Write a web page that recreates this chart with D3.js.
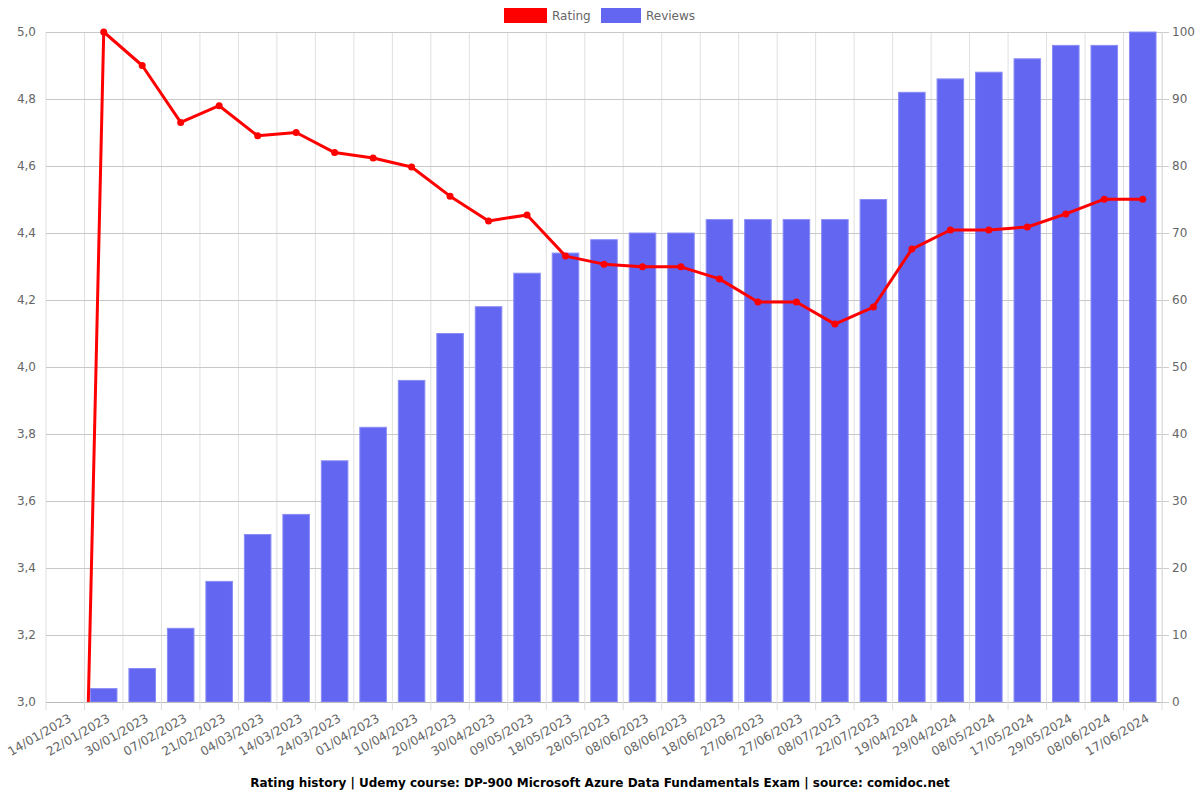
<!DOCTYPE html>
<html>
<head>
<meta charset="utf-8">
<script src="https://cdn.jsdelivr.net/npm/d3@7"></script>
<style>
  html, body { margin: 0; padding: 0; background: #fff; }
  svg { display: block; font-family: "DejaVu Sans", sans-serif; }
</style>
</head>
<body>
<svg id="chart" width="1200" height="800"></svg>
<script>
const categories = ["14/01/2023","22/01/2023","30/01/2023","07/02/2023","21/02/2023","04/03/2023","14/03/2023","24/03/2023","01/04/2023","10/04/2023","20/04/2023","30/04/2023","09/05/2023","18/05/2023","28/05/2023","08/06/2023","08/06/2023","18/06/2023","27/06/2023","27/06/2023","08/07/2023","22/07/2023","19/04/2024","29/04/2024","08/05/2024","17/05/2024","29/05/2024","08/06/2024","17/06/2024"];
const ratingValues = [0, 5.0, 4.90, 4.73, 4.78, 4.69, 4.70, 4.64, 4.624, 4.597, 4.51, 4.436, 4.454, 4.331, 4.307, 4.299, 4.299, 4.263, 4.194, 4.194, 4.128, 4.179, 4.352, 4.409, 4.409, 4.418, 4.457, 4.501, 4.501];
const reviewValues = [0, 2, 5, 11, 18, 25, 28, 36, 41, 48, 55, 59, 64, 67, 69, 70, 70, 72, 72, 72, 72, 75, 91, 93, 94, 96, 98, 98, 100];
const ratingTicks = [3.0, 3.2, 3.4, 3.6, 3.8, 4.0, 4.2, 4.4, 4.6, 4.8, 5.0];
const reviewTicks = [0, 10, 20, 30, 40, 50, 60, 70, 80, 90, 100];
const titleText = "Rating history | Udemy course: DP-900 Microsoft Azure Data Fundamentals Exam | source: comidoc.net";

const svg = d3.select("#chart");
const m = {left: 46, right: 1162, top: 32, bottom: 702};

const x = d3.scaleBand().domain(d3.range(categories.length)).range([m.left, m.right]).paddingInner(0).paddingOuter(0);
const yL = d3.scaleLinear().domain([3, 5]).range([m.bottom, m.top]);
const yR = d3.scaleLinear().domain([0, 100]).range([m.bottom, m.top]);
const fmt = d3.format(".1f");

svg.append("defs").append("clipPath").attr("id", "lineclip")
  .append("rect").attr("x", m.left).attr("y", m.top - 6).attr("width", m.right - m.left).attr("height", m.bottom - m.top + 6);

// vertical grid lines at band boundaries
const boundaries = d3.range(categories.length + 1).map(i => m.left + i * x.step());
svg.append("g").selectAll("line").data(boundaries).join("line")
  .attr("x1", d => d).attr("x2", d => d)
  .attr("y1", m.top).attr("y2", m.bottom)
  .attr("stroke", "#e0e0e0").attr("stroke-width", 1);

// horizontal grid lines
svg.append("g").selectAll("line").data(ratingTicks).join("line")
  .attr("x1", m.left).attr("x2", m.right)
  .attr("y1", d => yL(d) + 0.5).attr("y2", d => yL(d) + 0.5)
  .attr("stroke", "#c8c8c8").attr("stroke-width", 1);

// bars
const bw = x.bandwidth() * 0.69;
svg.append("g").selectAll("rect").data(reviewValues).join("rect")
  .attr("x", (d, i) => x(i) + (x.bandwidth() - bw) / 2)
  .attr("y", d => yR(d))
  .attr("width", bw)
  .attr("height", d => yR(0) - yR(d))
  .attr("fill", "#6366f1")
  .attr("stroke", "#8b8df5").attr("stroke-width", 1);

// bottom axis line
svg.append("line").attr("x1", m.left).attr("x2", m.right).attr("y1", m.bottom + 0.5).attr("y2", m.bottom + 0.5)
  .attr("stroke", "#bbb");

// bottom ticks
svg.append("g").selectAll("line").data(boundaries).join("line")
  .attr("x1", d => d).attr("x2", d => d)
  .attr("y1", m.bottom).attr("y2", m.bottom + 8)
  .attr("stroke", "#ddd");

// x labels
svg.append("g").selectAll("text").data(categories).join("text")
  .attr("transform", (d, i) => `translate(${x(i) + x.bandwidth() / 2 + 5},${m.bottom + 15}) rotate(-30)`)
  .attr("text-anchor", "end")
  .attr("dy", "0.35em")
  .attr("font-size", 12.3)
  .attr("fill", "#666")
  .text(d => d);

// left labels
svg.append("g").selectAll("text").data(ratingTicks).join("text")
  .attr("x", m.left - 10).attr("y", d => yL(d))
  .attr("dy", "0.35em").attr("text-anchor", "end")
  .attr("font-size", 12).attr("fill", "#666")
  .text(d => fmt(d).replace(".", ","));

// right ticks + labels
svg.append("g").selectAll("line").data(reviewTicks).join("line")
  .attr("x1", m.right).attr("x2", m.right + 7)
  .attr("y1", d => yR(d) + 0.5).attr("y2", d => yR(d) + 0.5)
  .attr("stroke", "#ccc");
svg.append("line").attr("x1", m.right + 0.5).attr("x2", m.right + 0.5).attr("y1", m.top).attr("y2", m.bottom)
  .attr("stroke", "#ddd");
svg.append("g").selectAll("text").data(reviewTicks).join("text")
  .attr("x", m.right + 10).attr("y", d => yR(d))
  .attr("dy", "0.35em").attr("text-anchor", "start")
  .attr("font-size", 12).attr("fill", "#666")
  .text(d => d);

// rating line
const line = d3.line().x((d, i) => x(i) + x.bandwidth() / 2).y(d => yL(d));
svg.append("path").datum(ratingValues)
  .attr("clip-path", "url(#lineclip)")
  .attr("d", line)
  .attr("fill", "none").attr("stroke", "#ff0000").attr("stroke-width", 3).attr("stroke-linejoin", "round");
svg.append("g").attr("clip-path", "url(#lineclip)").selectAll("circle").data(ratingValues).join("circle")
  .attr("cx", (d, i) => x(i) + x.bandwidth() / 2)
  .attr("cy", d => yL(d))
  .attr("r", 3.5)
  .attr("fill", "#ff0000");

// legend
const lg = svg.append("g");
lg.append("rect").attr("x", 504).attr("y", 8).attr("width", 43).attr("height", 15).attr("fill", "#ff0000");
lg.append("text").attr("x", 552).attr("y", 16).attr("dy", "0.35em").attr("font-size", 12).attr("fill", "#666").text("Rating");
lg.append("rect").attr("x", 601).attr("y", 8).attr("width", 40).attr("height", 15).attr("fill", "#6366f1");
lg.append("text").attr("x", 646).attr("y", 16).attr("dy", "0.35em").attr("font-size", 12).attr("fill", "#666").text("Reviews");

// title
svg.append("text").attr("x", 600).attr("y", 783).attr("dy", "0.35em").attr("text-anchor", "middle")
  .attr("font-size", 12).attr("font-weight", "bold").attr("fill", "#000").text(titleText);
</script>
</body>
</html>
